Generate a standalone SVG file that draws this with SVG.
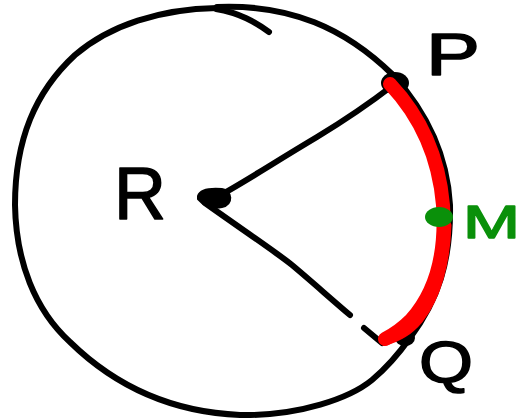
<svg xmlns="http://www.w3.org/2000/svg" width="522" height="419" viewBox="0 0 522 419">
<style>
.ink{fill:none;stroke:#000;stroke-width:6;stroke-linecap:round;stroke-linejoin:round}
.arc{fill:none;stroke:#ff0000;stroke-linecap:round;stroke-linejoin:round}
.lbl{font-family:"Liberation Sans",Arial,sans-serif;font-weight:normal;stroke-width:1.5;stroke-linejoin:round}
</style>
<rect width="522" height="419" fill="#fff"/>
<g id="circle">
<path class="ink" d="M217,8 C160,9 110,25 75,55 C35,92 15,140 15,205 C16,262 35,310 70,342 C115,386 170,412 240,415 C300,416 350,398 372,380 C390,365 400,352 410,338"/>
<path class="ink" d="M217,7 C290,4 345,28 393,75"/>
<path class="ink" d="M216,9 C240,13 255,22 269,32"/>
<path class="ink" d="M393,75 C423,108 447,150 450,205 C451,262 438,300 410,338"/>
</g>
<g id="connectors">
<path class="ink" d="M215,198 C240,185 270,165 317,137 C345,120 370,103 392,86"/>
<path class="ink" d="M205,203 C240,228 280,255 292,265 C310,280 330,298 350,315"/>
<path class="ink" d="M364,328 L382,343"/>
</g>
<g id="node-R">
<path d="M198,196 C200,190 210,188 222,189 C232,190 234,205 222,207 C212,209 204,206 198,199 Z" fill="#000" stroke="#000" stroke-width="2"/>
<text class="lbl" x="114" y="219" font-size="74" stroke="#000" textLength="52" lengthAdjust="spacingAndGlyphs">R</text>
</g>
<g id="node-P">
<ellipse cx="395" cy="83" rx="14" ry="11" fill="#000"/>
<text class="lbl" x="426" y="75" font-size="60" stroke="#000" textLength="54" lengthAdjust="spacingAndGlyphs">P</text>
</g>
<g id="node-Q">
<ellipse cx="405" cy="338" rx="10" ry="8" fill="#000"/>
<text class="lbl" x="419" y="382" font-size="58" stroke="#000" textLength="54" lengthAdjust="spacingAndGlyphs">Q</text>
</g>
<g id="arc-PQ">
<path class="arc" stroke-width="14" d="M390,84 C422,118 439,158 443,205 C446,250 438,290 411,320 C401,330 393,335 385,339"/>
<path class="arc" stroke-width="5" d="M449,225 C448,262 439,297 421,320 C409,334 399,339 386,343"/>
</g>
<g id="node-M">
<ellipse cx="439" cy="217" rx="14" ry="10" fill="#0a900a"/>
<text class="lbl" x="463" y="238" font-size="46" fill="#0a900a" stroke="#0a900a" textLength="57" lengthAdjust="spacingAndGlyphs">M</text>
</g>
</svg>
